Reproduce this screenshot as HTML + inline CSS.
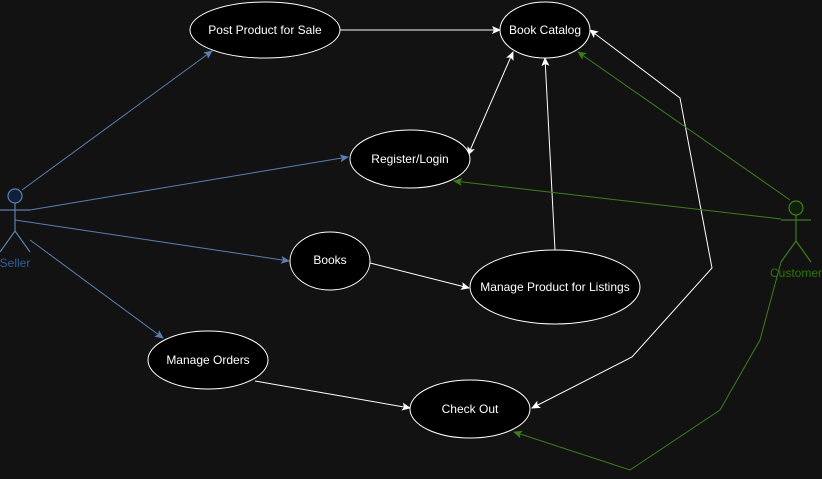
<!DOCTYPE html>
<html><head><meta charset="utf-8"><style>
html,body{margin:0;padding:0;background:#121212;}
svg{display:block;}
text{font-family:"Liberation Sans",sans-serif;font-size:12px;}
</style></head><body>
<svg width="822" height="479" viewBox="0 0 822 479" xmlns="http://www.w3.org/2000/svg">
<defs>
<marker id="w" markerWidth="10" markerHeight="10" refX="8" refY="5" orient="auto-start-reverse" markerUnits="userSpaceOnUse"><path d="M0,1 L9,5 L0,9 L2,5 Z" fill="#fff"/></marker>
<marker id="b" markerWidth="10" markerHeight="10" refX="8" refY="5" orient="auto" markerUnits="userSpaceOnUse"><path d="M0,1 L9,5 L0,9 L2,5 Z" fill="#5b7fb0"/></marker>
<marker id="g" markerWidth="10" markerHeight="10" refX="8" refY="5" orient="auto" markerUnits="userSpaceOnUse"><path d="M0,1 L9,5 L0,9 L2,5 Z" fill="#3e7d1d"/></marker>
</defs>
<!-- seller edges -->
<g stroke="#5b7fb0" stroke-width="1" fill="none">
<line x1="22" y1="190" x2="212" y2="51" marker-end="url(#b)"/>
<line x1="30" y1="210" x2="348" y2="157" marker-end="url(#b)"/>
<line x1="15" y1="220" x2="289" y2="261" marker-end="url(#b)"/>
<line x1="30" y1="240" x2="163" y2="338" marker-end="url(#b)"/>
</g>
<!-- white edges -->
<g stroke="#fff" stroke-width="1" fill="none">
<line x1="340" y1="30" x2="500" y2="30" marker-end="url(#w)"/>
<line x1="513" y1="52" x2="468" y2="155" marker-start="url(#w)" marker-end="url(#w)"/>
<line x1="555" y1="250" x2="545" y2="58" marker-end="url(#w)"/>
<line x1="370" y1="263" x2="469" y2="288" marker-end="url(#w)"/>
<line x1="255" y1="381" x2="410" y2="408" marker-end="url(#w)"/>
<polyline points="532,408 632,357 712,268 680,98 590,30" marker-start="url(#w)" marker-end="url(#w)"/>
</g>
<!-- customer edges -->
<g stroke="#3e7d1d" stroke-width="1" fill="none">
<line x1="790" y1="200" x2="578" y2="52" marker-end="url(#g)"/>
<line x1="781" y1="219" x2="454" y2="181" marker-end="url(#g)"/>
<polyline points="781,262 760,340 720,410 630,470 514,432" marker-end="url(#g)"/>
</g>
<!-- ellipses -->
<g fill="#000" stroke="#fff" stroke-width="1">
<ellipse cx="265" cy="30" rx="75" ry="28"/>
<ellipse cx="545" cy="30" rx="45" ry="28"/>
<ellipse cx="410" cy="159" rx="60" ry="29"/>
<ellipse cx="330" cy="261" rx="40" ry="29"/>
<ellipse cx="555" cy="287" rx="85" ry="37"/>
<ellipse cx="208" cy="360" rx="60" ry="29"/>
<ellipse cx="470" cy="409" rx="60" ry="29"/>
</g>
<g fill="#fff" text-anchor="middle">
<text x="265" y="34">Post Product for Sale</text>
<text x="545" y="34">Book Catalog</text>
<text x="410" y="163">Register/Login</text>
<text x="330" y="264">Books</text>
<text x="555" y="291">Manage Product for Listings</text>
<text x="208" y="364">Manage Orders</text>
<text x="470" y="413">Check Out</text>
</g>
<!-- seller actor -->
<g stroke="#5b7fb0" stroke-width="1.2" fill="none">
<circle cx="15" cy="196" r="7" fill="#10203a"/>
<line x1="15" y1="203" x2="15" y2="231"/>
<line x1="0" y1="210" x2="30" y2="210"/>
<line x1="15" y1="231" x2="0" y2="252"/>
<line x1="15" y1="231" x2="30" y2="252"/>
</g>
<text x="15" y="267" fill="#2f5f99" text-anchor="middle">Seller</text>
<!-- customer actor -->
<g stroke="#3e7d1d" stroke-width="1.2" fill="none">
<circle cx="796" cy="208" r="7" fill="#0f200a"/>
<line x1="796" y1="215" x2="796" y2="241"/>
<line x1="781" y1="220" x2="811" y2="220"/>
<line x1="796" y1="241" x2="781" y2="262"/>
<line x1="796" y1="241" x2="811" y2="262"/>
</g>
<text x="796" y="277" fill="#2d7600" text-anchor="middle">Customer</text>
</svg>
</body></html>
